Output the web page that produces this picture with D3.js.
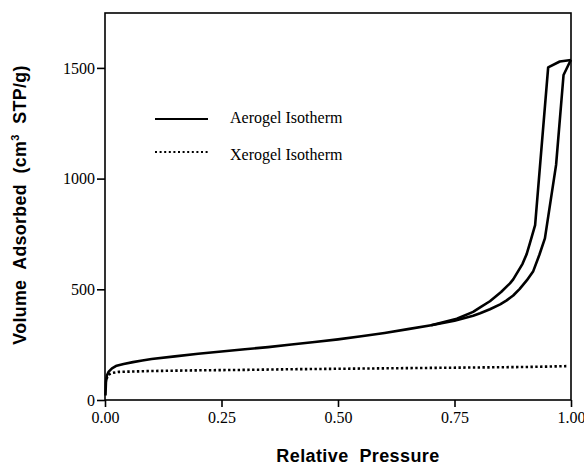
<!DOCTYPE html>
<html>
<head>
<meta charset="utf-8">
<script src="https://cdn.jsdelivr.net/npm/d3@7/dist/d3.min.js"></script>
<style>
  html, body { margin: 0; padding: 0; background: #fff; }
  svg { display: block; }
  .tick text { font-family: "Liberation Serif", "Times New Roman", serif; font-size: 16px; fill: #000; }
  .title { font-family: "Liberation Sans", Arial, sans-serif; font-weight: bold; fill: #000; }
  .legend text { font-family: "Liberation Serif", "Times New Roman", serif; font-size: 16px; fill: #000; }
</style>
</head>
<body>
<svg id="chart" width="584" height="466"></svg>
<script>
// Nitrogen sorption isotherms: relative pressure vs. volume adsorbed (cm3 STP/g)
const aerogelAdsP = [0.001, 0.002, 0.004, 0.008, 0.015, 0.025, 0.04, 0.06, 0.08, 0.1, 0.15, 0.2, 0.25, 0.3, 0.35, 0.4, 0.45, 0.5, 0.55, 0.6, 0.65, 0.7, 0.75, 0.79, 0.805, 0.826, 0.848, 0.862, 0.876, 0.89, 0.905, 0.919, 0.932, 0.944, 0.968, 0.984, 0.998, 1.0];
const aerogelAdsV = [20, 80, 110, 128, 143, 155, 163, 171, 178, 185, 197, 209, 219, 229, 239, 251, 262, 274, 288, 303, 320, 338, 358, 381, 392, 410, 432, 450, 472, 502, 540, 582, 655, 730, 1062, 1468, 1529, 1536];

const aerogelDesP = [0.7, 0.755, 0.79, 0.805, 0.826, 0.85, 0.869, 0.876, 0.896, 0.905, 0.912, 0.923, 0.951, 0.976, 1.0];
const aerogelDesV = [338, 367, 398, 418, 446, 488, 527, 545, 615, 660, 710, 790, 1502, 1529, 1536];

const xerogelP = [0.003, 0.008, 0.015, 0.03, 0.1, 0.2, 0.3, 0.4, 0.5, 0.6, 0.7, 0.8, 0.9, 0.95, 0.99];
const xerogelV = [95, 115, 122, 127, 131, 134, 136, 139, 141, 143, 145, 147, 149, 151, 153];

const xTicks = [0, 0.25, 0.5, 0.75, 1.0];
const yTicks = [0, 500, 1000, 1500];
const legendLabels = ["Aerogel Isotherm", "Xerogel Isotherm"];

const margin = { left: 105, right: 13, top: 13, bottom: 66 };
const W = 584, H = 466;
const svg = d3.select("#chart");

const x = d3.scaleLinear().domain([0, 1]).range([margin.left, W - margin.right]);
const y = d3.scaleLinear().domain([0, 1748]).range([H - margin.bottom, margin.top]);

// frame
svg.append("rect")
  .attr("x", x(0)).attr("y", y(1748))
  .attr("width", x(1) - x(0)).attr("height", y(0) - y(1748))
  .attr("fill", "none").attr("stroke", "#000").attr("stroke-width", 1.6);

// axes
const xAxis = svg.append("g")
  .attr("transform", `translate(0,${y(0)})`)
  .call(d3.axisBottom(x).tickValues(xTicks).tickFormat(d3.format(".2f")).tickSize(7).tickSizeOuter(0).tickPadding(5));
const yAxis = svg.append("g")
  .attr("transform", `translate(${x(0)},0)`)
  .call(d3.axisLeft(y).tickValues(yTicks).tickFormat(d3.format("d")).tickSize(8).tickSizeOuter(0).tickPadding(2));
[xAxis, yAxis].forEach(g => {
  g.select(".domain").remove();
  g.selectAll(".tick line").attr("stroke", "#000").attr("stroke-width", 1.6);
});

// axis titles
svg.append("text").attr("class", "title")
  .attr("x", 358).attr("y", 462).attr("text-anchor", "middle")
  .attr("font-size", 18).attr("letter-spacing", 0.4)
  .attr("xml:space", "preserve")
  .text("Relative  Pressure");

const yt = svg.append("text").attr("class", "title")
  .attr("transform", "translate(26,205) rotate(-90)")
  .attr("text-anchor", "middle")
  .attr("font-size", 17.8).attr("letter-spacing", 0.35)
  .attr("xml:space", "preserve");
yt.append("tspan").text("Volume  Adsorbed  (cm");
yt.append("tspan").attr("dy", -7).attr("font-size", 11).text("3");
yt.append("tspan").attr("dy", 7).text("  STP/g)");

// series
const line = d3.line().x(d => x(d[0])).y(d => y(d[1]));
const zip = (a, b) => a.map((v, i) => [v, b[i]]);

svg.append("path").datum(zip(aerogelAdsP, aerogelAdsV))
  .attr("d", line).attr("fill", "none").attr("stroke", "#000")
  .attr("stroke-width", 2.6).attr("stroke-linejoin", "round");
svg.append("path").datum(zip(aerogelDesP, aerogelDesV))
  .attr("d", line).attr("fill", "none").attr("stroke", "#000")
  .attr("stroke-width", 2.6).attr("stroke-linejoin", "round");
svg.append("path").datum(zip(xerogelP, xerogelV))
  .attr("d", line).attr("fill", "none").attr("stroke", "#000")
  .attr("stroke-width", 2.6).attr("stroke-dasharray", "2.4,2.4");

// legend
const legend = svg.append("g").attr("class", "legend");
legend.append("line").attr("x1", 155).attr("x2", 208).attr("y1", 119).attr("y2", 119)
  .attr("stroke", "#000").attr("stroke-width", 2);
legend.append("text").attr("x", 230).attr("y", 123).text(legendLabels[0]);
legend.append("line").attr("x1", 155).attr("x2", 208).attr("y1", 152).attr("y2", 152)
  .attr("stroke", "#000").attr("stroke-width", 2.2).attr("stroke-dasharray", "2,2.6");
legend.append("text").attr("x", 230).attr("y", 160).text(legendLabels[1]);
</script>
</body>
</html>
